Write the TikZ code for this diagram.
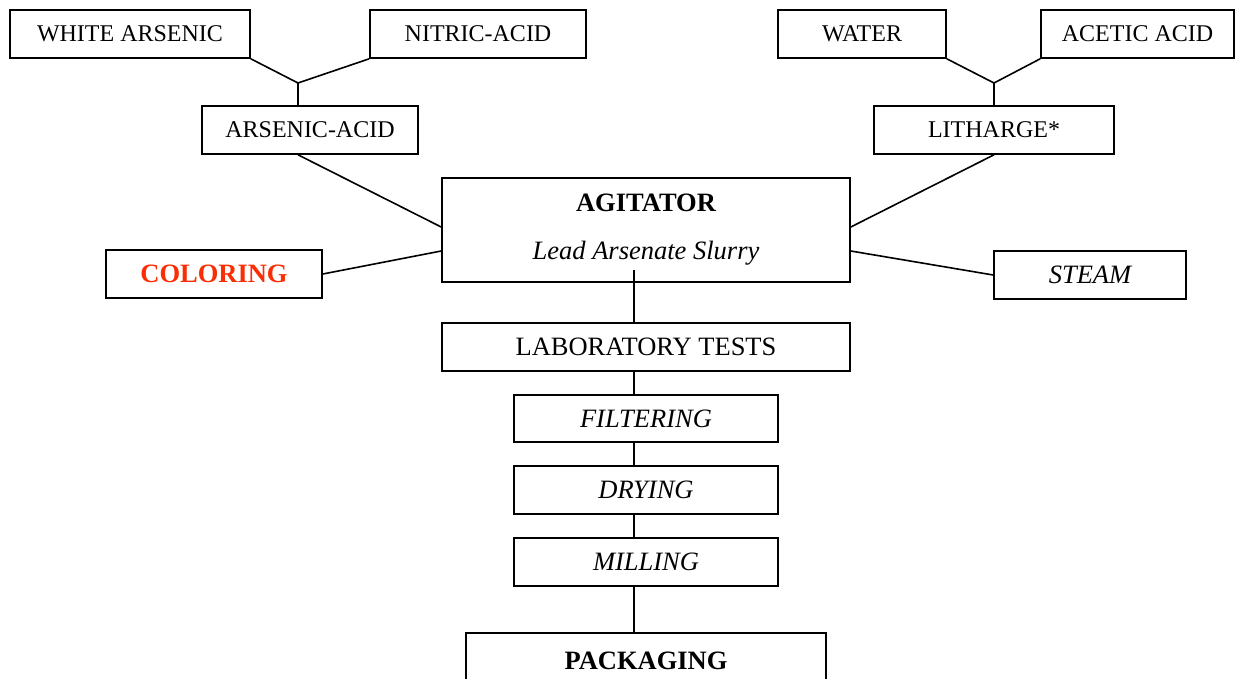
\documentclass[tikz,border=0pt]{standalone}
\usepackage{fontspec}
\setmainfont{Liberation Serif}
\definecolor{dyered}{RGB}{250,45,5}

\begin{document}
\begin{tikzpicture}[x=1pt,y=-1pt,
  box/.style={draw,line width=1.6pt,inner sep=0pt,font=\fontsize{26.5}{32}\selectfont},
  feed/.style={box,font=\fontsize{24}{29}\selectfont},
  link/.style={line width=1.6pt}]
  \clip (0,0) rectangle (1236,678);
  % raw materials
  \node[feed,minimum width=240,minimum height=48] (wars) at (130,34) {WHITE ARSENIC};
  \node[feed,minimum width=216,minimum height=48] (nitric) at (478,34) {NITRIC-ACID};
  \node[feed,minimum width=216,minimum height=48] (arsac) at (310,130) {ARSENIC-ACID};
  \node[feed,minimum width=168,minimum height=48] (water) at (862,34) {WATER};
  \node[feed,minimum width=193,minimum height=48] (acetic) at (1137.5,34) {ACETIC ACID};
  \node[feed,minimum width=240,minimum height=48] (lith) at (994,130) {LITHARGE*};
  % agitator and side feeds
  \node[box,minimum width=408,minimum height=104,align=center,
        font=\fontsize{26.5}{48}\selectfont] (agit) at (646,230)
        {\bfseries AGITATOR\\\itshape Lead Arsenate Slurry};
  \node[box,minimum width=216,minimum height=48,text=dyered,font=\fontsize{26.5}{32}\selectfont\bfseries]
        (color) at (214,274) {COLORING};
  \node[box,minimum width=192,minimum height=48,font=\fontsize{26.5}{32}\selectfont\itshape]
        (steam) at (1090,275) {STEAM};
  % processing steps
  \node[box,minimum width=408,minimum height=48] (lab) at (646,347) {LABORATORY TESTS};
  \node[box,minimum width=264,minimum height=47,font=\fontsize{26.5}{32}\selectfont\itshape]
        (filt) at (646,418.5) {FILTERING};
  \node[box,minimum width=264,minimum height=48,font=\fontsize{26.5}{32}\selectfont\itshape]
        (dry) at (646,490) {DRYING};
  \node[box,minimum width=264,minimum height=48,font=\fontsize{26.5}{32}\selectfont\itshape]
        (mill) at (646,562) {MILLING};
  \node[box,minimum width=360,minimum height=56,font=\fontsize{26.5}{32}\selectfont\bfseries]
        (pack) at (646,661) {PACKAGING};
  % junctions
  \coordinate (jl) at (298,83);
  \coordinate (jr) at (994,83);
  \coordinate (spine) at (634,270);
  \draw[link] (wars.south east) -- (jl) -- (nitric.south west);
  \draw[link] (jl) -- (jl |- arsac.north);
  \draw[link] (water.south east) -- (jr) -- (acetic.south west);
  \draw[link] (jr) -- (jr |- lith.north);
  \draw[link] (jl |- arsac.south) -- ([yshift=3pt]agit.west);
  \draw[link] (jr |- lith.south) -- ([yshift=3pt]agit.east);
  \draw[link] (color.east) -- ([yshift=-21pt]agit.west);
  \draw[link] ([yshift=-21pt]agit.east) -- (steam.west);
  \draw[link] (spine) -- (spine |- lab.north);
  \foreach \a/\b in {lab/filt,filt/dry,dry/mill,mill/pack}
    \draw[link] (spine |- \a.south) -- (spine |- \b.north);
\end{tikzpicture}
\end{document}
